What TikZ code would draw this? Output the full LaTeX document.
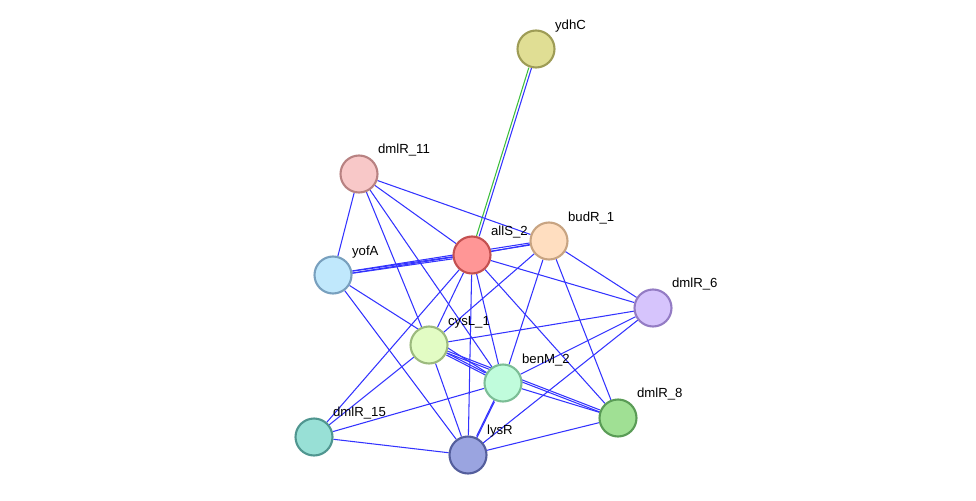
\documentclass[tikz,border=0pt]{standalone}
\usepackage{fontspec}
\setmainfont{Liberation Sans}
\usetikzlibrary{backgrounds}
\tikzstyle{pNode} = [circle, minimum size=0.74cm, inner sep=0pt, line width=1.2pt]
\tikzstyle{edge} = [draw=blue!80!white, line width=0.6pt]
\tikzstyle{lab} = [font=\fontsize{7.5}{8}\selectfont, anchor=south west, inner sep=1pt]

\begin{document}
\begin{tikzpicture}[x=0.02cm, y=-0.02cm]
    \useasboundingbox (0,0) rectangle (976,500);
    \node (ydhC)[pNode, fill={rgb,255:red,224;green,222;blue,148}, draw={rgb,255:red,158;green,156;blue,86}] at (536,49) {};
    \node (dmlR11)[pNode, fill={rgb,255:red,248;green,200;blue,200}, draw={rgb,255:red,184;green,130;blue,130}] at (359,174) {};
    \node (allS2)[pNode, fill={rgb,255:red,255;green,150;blue,150}, draw={rgb,255:red,196;green,80;blue,80}] at (472,255) {};
    \node (budR1)[pNode, fill={rgb,255:red,255;green,222;blue,192}, draw={rgb,255:red,200;green,164;blue,130}] at (549,241) {};
    \node (yofA)[pNode, fill={rgb,255:red,192;green,232;blue,252}, draw={rgb,255:red,120;green,160;blue,190}] at (333,275) {};
    \node (dmlR6)[pNode, fill={rgb,255:red,214;green,196;blue,252}, draw={rgb,255:red,148;green,124;blue,196}] at (653,308) {};
    \node (cysL1)[pNode, fill={rgb,255:red,226;green,252;blue,196}, draw={rgb,255:red,156;green,186;blue,126}] at (429,345) {};
    \node (benM2)[pNode, fill={rgb,255:red,192;green,252;blue,220}, draw={rgb,255:red,124;green,190;blue,150}] at (503,383) {};
    \node (dmlR8)[pNode, fill={rgb,255:red,160;green,224;blue,148}, draw={rgb,255:red,90;green,156;blue,86}] at (618,418) {};
    \node (dmlR15)[pNode, fill={rgb,255:red,152;green,224;blue,214}, draw={rgb,255:red,80;green,150;blue,144}] at (314,437) {};
    \node (lysR)[pNode, fill={rgb,255:red,154;green,164;blue,224}, draw={rgb,255:red,84;green,94;blue,156}] at (468,455) {};

    \node[lab] at (553,34) {ydhC};
    \node[lab] at (376,158) {dmlR\_11};
    \node[lab] at (489,240) {allS\_2};
    \node[lab] at (566,226) {budR\_1};
    \node[lab] at (350,260) {yofA};
    \node[lab] at (670,292) {dmlR\_6};
    \node[lab] at (446,330) {cysL\_1};
    \node[lab] at (520,368) {benM\_2};
    \node[lab] at (635,402) {dmlR\_8};
    \node[lab] at (331,421) {dmlR\_15};
    \node[lab] at (485,439) {lysR};

    \begin{scope}[on background layer]
    \draw [draw={rgb,255:red,60;green,190;blue,60}, line width=0.6pt, transform canvas={xshift=-0.8pt}] (ydhC) -- (allS2);
    \draw [edge, transform canvas={xshift=0.8pt}] (ydhC) -- (allS2);
    \foreach \a/\b in {dmlR11/allS2, dmlR11/budR1, dmlR11/yofA, dmlR11/cysL1, dmlR11/benM2,
        yofA/benM2, yofA/lysR, allS2/budR1, allS2/dmlR6, allS2/cysL1, allS2/benM2,
        allS2/lysR, allS2/dmlR8, allS2/dmlR15, budR1/cysL1, budR1/benM2, budR1/dmlR8,
        budR1/dmlR6, dmlR6/cysL1, dmlR6/benM2, dmlR6/lysR, cysL1/dmlR15, cysL1/lysR,
        benM2/dmlR15, benM2/dmlR8, lysR/dmlR8, lysR/dmlR15}
        \draw [edge] (\a) -- (\b);
    \foreach \a/\b in {yofA/allS2, yofA/budR1, cysL1/benM2, cysL1/dmlR8, benM2/lysR}
        {\draw [edge, transform canvas={yshift=0.6pt}] (\a) -- (\b);
         \draw [edge, transform canvas={yshift=-0.6pt}] (\a) -- (\b);}
    \end{scope}
\end{tikzpicture}
\end{document}
